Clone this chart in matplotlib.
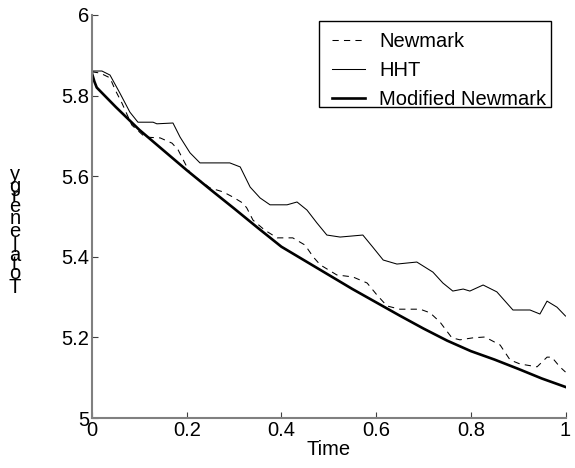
import matplotlib
matplotlib.use("Agg")
import matplotlib.pyplot as plt
from matplotlib.patches import Rectangle

plt.rcParams['font.family'] = ['Liberation Sans', 'DejaVu Sans']

# Newmark (dashed)
t_newmark = [0.0, 0.017, 0.038, 0.049, 0.063, 0.084, 0.112, 0.144, 0.169, 0.182, 0.196, 0.207,
             0.249, 0.277, 0.298, 0.319, 0.327, 0.340, 0.365, 0.391, 0.424, 0.450, 0.467, 0.482,
             0.517, 0.551, 0.581, 0.602, 0.623, 0.650, 0.693, 0.714, 0.735, 0.760, 0.777, 0.805,
             0.830, 0.862, 0.883, 0.904, 0.940, 0.961, 0.971, 0.988, 1.0]
e_newmark = [5.859, 5.856, 5.844, 5.814, 5.782, 5.727, 5.697, 5.695, 5.682, 5.665, 5.633, 5.608,
             5.571, 5.561, 5.548, 5.533, 5.521, 5.491, 5.466, 5.447, 5.447, 5.429, 5.400, 5.380,
             5.355, 5.350, 5.335, 5.305, 5.278, 5.270, 5.270, 5.261, 5.238, 5.199, 5.194, 5.199,
             5.201, 5.181, 5.144, 5.134, 5.127, 5.151, 5.151, 5.127, 5.114]

# HHT (thin solid)
t_hht = [0.0, 0.021, 0.038, 0.059, 0.080, 0.097, 0.129, 0.137, 0.171, 0.186, 0.207, 0.228,
         0.291, 0.313, 0.334, 0.355, 0.376, 0.412, 0.433, 0.454, 0.475, 0.496, 0.524, 0.572,
         0.593, 0.615, 0.644, 0.686, 0.720, 0.741, 0.762, 0.784, 0.798, 0.826, 0.855, 0.889,
         0.925, 0.946, 0.961, 0.982, 1.0]
e_hht = [5.861, 5.861, 5.851, 5.806, 5.759, 5.734, 5.734, 5.730, 5.732, 5.697, 5.658, 5.633,
         5.633, 5.623, 5.573, 5.546, 5.529, 5.529, 5.536, 5.516, 5.484, 5.454, 5.449, 5.454,
         5.424, 5.392, 5.382, 5.387, 5.362, 5.335, 5.315, 5.320, 5.315, 5.330, 5.313, 5.268,
         5.268, 5.258, 5.290, 5.275, 5.253]

# Modified Newmark (thick solid)
t_mod = [0.0, 0.005, 0.01, 0.05, 0.10, 0.15, 0.20, 0.25, 0.30, 0.35, 0.40, 0.45, 0.50,
         0.55, 0.60, 0.65, 0.70, 0.75, 0.80, 0.85, 0.90, 0.95, 1.0]
e_mod = [5.855, 5.835, 5.820, 5.772, 5.715, 5.665, 5.615, 5.567, 5.520, 5.472, 5.425, 5.390,
         5.355, 5.320, 5.287, 5.254, 5.222, 5.192, 5.166, 5.145, 5.122, 5.098, 5.077]

x_ticks = [0, 0.2, 0.4, 0.6, 0.8, 1]
x_ticklabels = ['0', '0.2', '0.4', '0.6', '0.8', '1']
y_ticks = [5, 5.2, 5.4, 5.6, 5.8, 6]
y_ticklabels = ['5', '5.2', '5.4', '5.6', '5.8', '6']

W, H = 575, 468
fig = plt.figure(figsize=(W/100, H/100), dpi=100)
ax = fig.add_axes([92/W, 1-418/H, (565.5-92)/W, (418-15)/H])

ax.plot(t_newmark, e_newmark, color='black', lw=0.75, dashes=(6, 5), label='Newmark')
ax.plot(t_hht, e_hht, color='black', lw=0.75, label='HHT')
ax.plot(t_mod, e_mod, color='black', lw=1.9, label='Modified Newmark')

ax.set_xlim(0, 1)
ax.set_ylim(5, 6)
ax.set_xticks(x_ticks)
ax.set_xticklabels(x_ticklabels)
ax.set_yticks(y_ticks)
ax.set_yticklabels(y_ticklabels)
for s in ['top', 'right']:
    ax.spines[s].set_visible(False)
for s in ['left', 'bottom']:
    ax.spines[s].set_color('#808080')
    ax.spines[s].set_linewidth(1.5)
ax.tick_params(direction='in', length=4, width=0.8, colors='#404040', labelcolor='black',
               labelsize=14.5, pad=2)
ax.set_xlabel('Time', fontsize=14.5, labelpad=0)

# legend box
ax.add_patch(Rectangle((319/W, 1-107/H), (551-319)/W, (107-21)/H, transform=fig.transFigure,
                       facecolor='white', edgecolor='black', linewidth=1.0, zorder=4.5,
                       clip_on=False))
leg = ax.legend(loc='upper left', bbox_to_anchor=(332/W, 1-32/H), bbox_transform=fig.transFigure,
                fontsize=14.5, frameon=False, handlelength=1.65, borderpad=0, borderaxespad=0,
                handletextpad=0.7, labelspacing=0.5)
leg.set_zorder(6)

# y label drawn as stacked characters (as in the reference rendering)
label = 'Total energy'
adv = {'T': 0.611, 'o': 0.556, 't': 0.278, 'a': 0.556, 'l': 0.222, ' ': 0.278,
       'e': 0.556, 'n': 0.556, 'r': 0.333, 'g': 0.556, 'y': 0.5}
em = 22.5
y_bottom = 294
cum = 0.0
for ch in label:
    w = adv.get(ch, 0.5)
    yc = y_bottom - (cum + w/2) * em
    cum += w
    if ch != ' ':
        fig.text(15/W, 1 - yc/H, ch, ha='center', va='center', fontsize=14.5)

fig.savefig('out.png', dpi=100)
